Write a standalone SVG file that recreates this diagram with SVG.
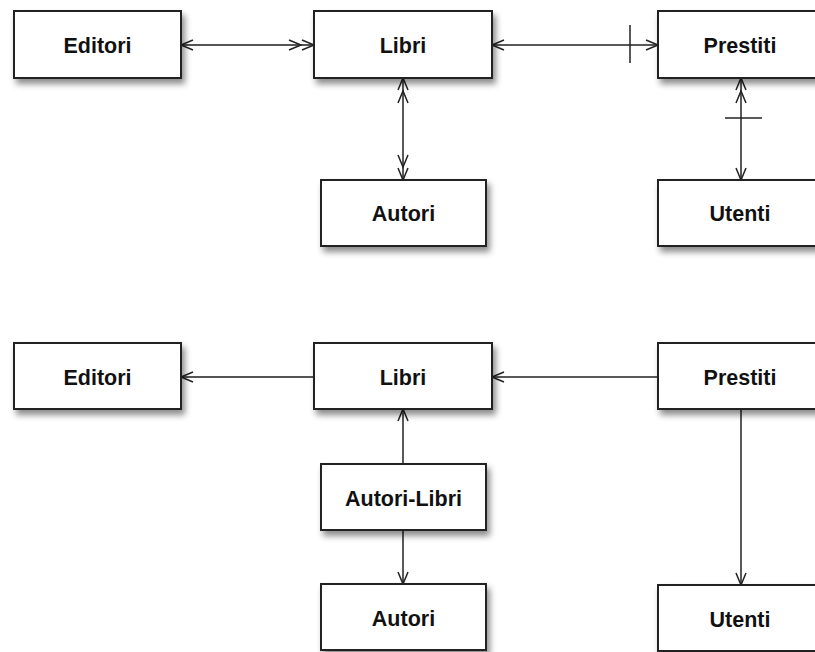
<svg xmlns="http://www.w3.org/2000/svg" width="815" height="652" viewBox="0 0 815 652">
<style>
.box{fill:#fff;stroke:#222;stroke-width:2;filter:url(#sh)}
.lbl{font-family:"Liberation Sans",Arial,sans-serif;font-weight:bold;font-size:21.5px;fill:#111;text-anchor:middle}
.c{stroke:#222;stroke-width:1.5;fill:none}
.g{stroke:#555;stroke-width:2.2;fill:none}
.hd{stroke:#222;stroke-width:1.5;fill:none;stroke-linejoin:miter}
</style>
<defs>
<filter id="sh" x="-10%" y="-20%" width="130%" height="160%">
<feDropShadow dx="3" dy="5" stdDeviation="3" flood-color="#000" flood-opacity="0.45"/>
</filter>
<marker id="a1" markerUnits="userSpaceOnUse" viewBox="-30 -10 32 20" markerWidth="32" markerHeight="20" refX="0" refY="0" orient="auto-start-reverse" overflow="visible">
<path class="hd" d="M-12,-5 L0,0 L-12,5"/>
</marker>
<marker id="a2" markerUnits="userSpaceOnUse" viewBox="-30 -10 32 20" markerWidth="32" markerHeight="20" refX="0" refY="0" orient="auto-start-reverse" overflow="visible">
<path class="hd" d="M-12,-5 L0,0 L-12,5 M-25,-5 L-13,0 L-25,5"/>
</marker>
</defs>
<g id="connectors">
<line class="g" x1="181" y1="45" x2="314" y2="45" marker-start="url(#a1)" marker-end="url(#a2)"/>
<line class="c" x1="492" y1="45" x2="658" y2="45" marker-start="url(#a1)" marker-end="url(#a1)"/>
<line class="c" x1="630" y1="25" x2="630" y2="63"/>
<line class="c" x1="403" y1="78" x2="403" y2="180" marker-start="url(#a2)" marker-end="url(#a2)"/>
<line class="c" x1="741" y1="78" x2="741" y2="180" marker-start="url(#a2)" marker-end="url(#a1)"/>
<line class="c" x1="725" y1="118" x2="762" y2="118"/>
<line class="g" x1="314" y1="377" x2="181" y2="377" marker-end="url(#a1)"/>
<line class="c" x1="658" y1="377" x2="492" y2="377" marker-end="url(#a1)"/>
<line class="c" x1="403" y1="464" x2="403" y2="409" marker-end="url(#a1)"/>
<line class="c" x1="403" y1="530" x2="403" y2="584" marker-end="url(#a1)"/>
<line class="c" x1="741" y1="409" x2="741" y2="585" marker-end="url(#a1)"/>
</g>
<g id="editori1"><rect class="box" x="14" y="11" width="167" height="67"/><text class="lbl" x="97.5" y="52.5">Editori</text></g>
<g id="libri1"><rect class="box" x="314" y="11" width="178" height="67"/><text class="lbl" x="403" y="52.5">Libri</text></g>
<g id="prestiti1"><rect class="box" x="658" y="11" width="167" height="67"/><text class="lbl" x="740" y="52.5">Prestiti</text></g>
<g id="autori1"><rect class="box" x="321" y="180" width="165" height="66"/><text class="lbl" x="403.5" y="221">Autori</text></g>
<g id="utenti1"><rect class="box" x="658" y="180" width="167" height="66"/><text class="lbl" x="740" y="221">Utenti</text></g>
<g id="editori2"><rect class="box" x="14" y="343" width="167" height="66"/><text class="lbl" x="97.5" y="384.5">Editori</text></g>
<g id="libri2"><rect class="box" x="314" y="343" width="178" height="66"/><text class="lbl" x="403" y="384.5">Libri</text></g>
<g id="prestiti2"><rect class="box" x="658" y="343" width="167" height="66"/><text class="lbl" x="740" y="384.5">Prestiti</text></g>
<g id="autorilibri"><rect class="box" x="321" y="464" width="165" height="66"/><text class="lbl" x="403.5" y="506">Autori-Libri</text></g>
<g id="autori2"><rect class="box" x="321" y="584" width="165" height="66"/><text class="lbl" x="403.5" y="626">Autori</text></g>
<g id="utenti2"><rect class="box" x="658" y="585" width="167" height="66"/><text class="lbl" x="740" y="627">Utenti</text></g>
</svg>
